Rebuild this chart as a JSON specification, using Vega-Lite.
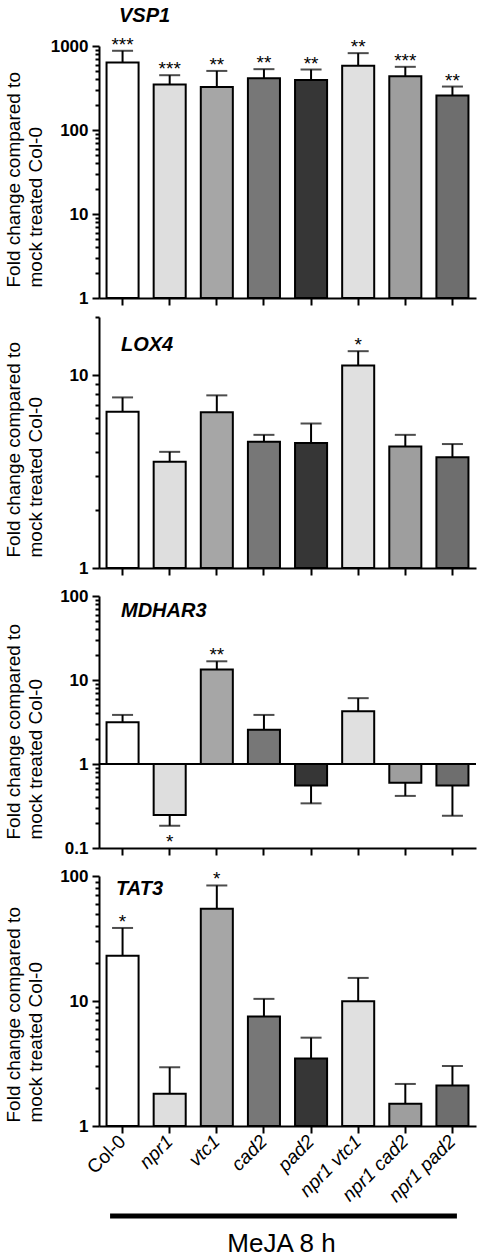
{
  "$schema": "https://vega.github.io/schema/vega-lite/v6.json",
  "background": "white",
  "padding": {"left": 3, "top": 5, "right": 0, "bottom": 0},
  "config": {
    "font": "Liberation Sans",
    "view": {"stroke": null},
    "axis": {"grid": false, "domainColor": "black", "tickColor": "black", "labelColor": "black", "titleColor": "black", "domainWidth": 2, "tickWidth": 2}
  },
  "datasets": {
    "vsp1": [
      {"genotype": "Col-0", "value": 637, "err": 877, "sig": "***"},
      {"genotype": "npr1", "value": 348, "err": 449, "sig": "***"},
      {"genotype": "vtc1", "value": 326, "err": 505, "sig": "**"},
      {"genotype": "cad2", "value": 413, "err": 530, "sig": "**"},
      {"genotype": "pad2", "value": 395, "err": 525, "sig": "**"},
      {"genotype": "npr1 vtc1", "value": 580, "err": 822, "sig": "**"},
      {"genotype": "npr1 cad2", "value": 437, "err": 565, "sig": "***"},
      {"genotype": "npr1 pad2", "value": 257, "err": 329, "sig": "**"}
    ],
    "lox4": [
      {"genotype": "Col-0", "value": 6.46, "err": 7.66, "sig": ""},
      {"genotype": "npr1", "value": 3.55, "err": 4.0, "sig": ""},
      {"genotype": "vtc1", "value": 6.41, "err": 7.85, "sig": ""},
      {"genotype": "cad2", "value": 4.51, "err": 4.9, "sig": ""},
      {"genotype": "pad2", "value": 4.44, "err": 5.61, "sig": ""},
      {"genotype": "npr1 vtc1", "value": 11.2, "err": 13.3, "sig": "*"},
      {"genotype": "npr1 cad2", "value": 4.27, "err": 4.9, "sig": ""},
      {"genotype": "npr1 pad2", "value": 3.75, "err": 4.39, "sig": ""}
    ],
    "mdhar3": [
      {"genotype": "Col-0", "value": 3.13, "err": 3.84, "sig": ""},
      {"genotype": "npr1", "value": 0.247, "err": 0.184, "sig": "*"},
      {"genotype": "vtc1", "value": 13.3, "err": 16.7, "sig": "**"},
      {"genotype": "cad2", "value": 2.56, "err": 3.84, "sig": ""},
      {"genotype": "pad2", "value": 0.555, "err": 0.34, "sig": ""},
      {"genotype": "npr1 vtc1", "value": 4.25, "err": 6.08, "sig": ""},
      {"genotype": "npr1 cad2", "value": 0.597, "err": 0.417, "sig": ""},
      {"genotype": "npr1 pad2", "value": 0.555, "err": 0.242, "sig": ""}
    ],
    "tat3": [
      {"genotype": "Col-0", "value": 23.0, "err": 38.4, "sig": "*"},
      {"genotype": "npr1", "value": 1.81, "err": 2.95, "sig": ""},
      {"genotype": "vtc1", "value": 54.8, "err": 84, "sig": "*"},
      {"genotype": "cad2", "value": 7.5, "err": 10.4, "sig": ""},
      {"genotype": "pad2", "value": 3.46, "err": 5.09, "sig": ""},
      {"genotype": "npr1 vtc1", "value": 9.94, "err": 15.3, "sig": ""},
      {"genotype": "npr1 cad2", "value": 1.51, "err": 2.17, "sig": ""},
      {"genotype": "npr1 pad2", "value": 2.11, "err": 3.02, "sig": ""}
    ],
    "meja": [
      {"from": "Col-0", "to": "npr1 pad2", "label": "MeJA 8 h"}
    ]
  },
  "vconcat": [
    {
      "data": {"name": "vsp1"},
      "width": 377, "height": 252,
      "title": {"text": "VSP1", "anchor": "start", "frame": "group", "dx": 20, "offset": -6, "baseline": "alphabetic", "fontSize": 20, "fontStyle": "italic", "fontWeight": "bold", "color": "black"},
      "encoding": {
        "x": {"field": "genotype", "type": "nominal", "sort": null,
          "scale": {"domain": ["Col-0", "npr1", "vtc1", "cad2", "pad2", "npr1 vtc1", "npr1 cad2", "npr1 pad2"], "paddingInner": 0.32, "paddingOuter": 0.16},
          "axis": {"labels": false, "title": null, "tickSize": 7}}
      },
      "layer": [
        {"mark": {"type": "rule", "strokeWidth": 2, "color": "black"},
         "encoding": {
           "y": {"field": "value", "type": "quantitative",
             "scale": {"type": "log", "domain": [1, 1000], "nice": false},
             "axis": {"title": ["Fold change compared to", "mock treated Col-0"], "titleFontSize": 19, "titleFontWeight": "normal", "titleAngle": 270, "titleAlign": "left", "titleBaseline": "top", "titleX": -95, "titleY": 241, "titleLineHeight": 22,
               "values": [1,2,3,4,5,6,7,8,9,10,20,30,40,50,60,70,80,90,100,200,300,400,500,600,700,800,900,1000],
               "labelExpr": "indexof([0.1,1,10,100,1000], datum.value) >= 0 ? datum.label : ''",
               "format": "~g", "labelFontSize": 17, "labelFontWeight": "bold", "labelPadding": 4,
               "tickSize": {"condition": {"test": "indexof([0.1,1,10,100,1000], datum.value) >= 0", "value": 7}, "value": 4}}},
           "y2": {"field": "err"}}},
        {"mark": {"type": "tick", "orient": "horizontal", "size": 21, "thickness": 2, "color": "black"},
         "encoding": {"y": {"field": "err", "type": "quantitative"}}},
        {"mark": {"type": "bar", "stroke": "black", "strokeWidth": 2},
         "encoding": {"y": {"field": "value", "type": "quantitative"}, "y2": {"datum": 1},
           "fill": {"field": "genotype", "type": "nominal", "legend": null,
             "scale": {"domain": ["Col-0", "npr1", "vtc1", "cad2", "pad2", "npr1 vtc1", "npr1 cad2", "npr1 pad2"], "range": ["#ffffff", "#dedede", "#a6a6a6", "#777777", "#363636", "#e0e0e0", "#9e9e9e", "#6e6e6e"]}}}},
        {"transform": [{"filter": "datum.value >= 1"}],
         "mark": {"type": "text", "fontSize": 19, "baseline": "alphabetic", "dy": 0, "color": "black"},
         "encoding": {"y": {"field": "err", "type": "quantitative"}, "text": {"field": "sig"}}}
      ]
    },
    {
      "data": {"name": "lox4"},
      "width": 377, "height": 251,
      "title": {"text": "LOX4", "anchor": "start", "frame": "group", "dx": 22, "offset": -55, "baseline": "alphabetic", "fontSize": 20, "fontStyle": "italic", "fontWeight": "bold", "color": "black"},
      "encoding": {
        "x": {"field": "genotype", "type": "nominal", "sort": null,
          "scale": {"domain": ["Col-0", "npr1", "vtc1", "cad2", "pad2", "npr1 vtc1", "npr1 cad2", "npr1 pad2"], "paddingInner": 0.32, "paddingOuter": 0.16},
          "axis": {"labels": false, "title": null, "tickSize": 7}}
      },
      "layer": [
        {"mark": {"type": "rule", "strokeWidth": 2, "color": "black"},
         "encoding": {
           "y": {"field": "value", "type": "quantitative",
             "scale": {"type": "log", "domain": [1, 20], "nice": false},
             "axis": {"title": ["Fold change compared to", "mock treated Col-0"], "titleFontSize": 19, "titleFontWeight": "normal", "titleAngle": 270, "titleAlign": "left", "titleBaseline": "top", "titleX": -95, "titleY": 240, "titleLineHeight": 22,
               "values": [1,2,3,4,5,6,7,8,9,10,20],
               "labelExpr": "indexof([0.1,1,10,100,1000], datum.value) >= 0 ? datum.label : ''",
               "format": "~g", "labelFontSize": 17, "labelFontWeight": "bold", "labelPadding": 4,
               "tickSize": {"condition": {"test": "indexof([0.1,1,10,100,1000], datum.value) >= 0", "value": 7}, "value": 4}}},
           "y2": {"field": "err"}}},
        {"mark": {"type": "tick", "orient": "horizontal", "size": 21, "thickness": 2, "color": "black"},
         "encoding": {"y": {"field": "err", "type": "quantitative"}}},
        {"mark": {"type": "bar", "stroke": "black", "strokeWidth": 2},
         "encoding": {"y": {"field": "value", "type": "quantitative"}, "y2": {"datum": 1},
           "fill": {"field": "genotype", "type": "nominal", "legend": null,
             "scale": {"domain": ["Col-0", "npr1", "vtc1", "cad2", "pad2", "npr1 vtc1", "npr1 cad2", "npr1 pad2"], "range": ["#ffffff", "#dedede", "#a6a6a6", "#777777", "#363636", "#e0e0e0", "#9e9e9e", "#6e6e6e"]}}}},
        {"transform": [{"filter": "datum.value >= 1"}],
         "mark": {"type": "text", "fontSize": 19, "baseline": "alphabetic", "dy": 0, "color": "black"},
         "encoding": {"y": {"field": "err", "type": "quantitative"}, "text": {"field": "sig"}}}
      ]
    },
    {
      "data": {"name": "mdhar3"},
      "width": 377, "height": 261,
      "title": {"text": "MDHAR3", "anchor": "start", "frame": "group", "dx": 22, "offset": -50, "baseline": "alphabetic", "fontSize": 20, "fontStyle": "italic", "fontWeight": "bold", "color": "black"},
      "layer": [
        {"mark": {"type": "rule", "strokeWidth": 2, "color": "black"},
         "encoding": {
           "x": {"field": "genotype", "type": "nominal", "sort": null,
             "scale": {"domain": ["Col-0", "npr1", "vtc1", "cad2", "pad2", "npr1 vtc1", "npr1 cad2", "npr1 pad2"], "paddingInner": 0.32, "paddingOuter": 0.16},
             "axis": {"labels": false, "title": null, "tickSize": 7}},
           "y": {"field": "value", "type": "quantitative",
             "scale": {"type": "log", "domain": [0.1, 100], "nice": false, "range": [261, 9]},
             "axis": {"title": ["Fold change compared to", "mock treated Col-0"], "titleFontSize": 19, "titleFontWeight": "normal", "titleAngle": 270, "titleAlign": "left", "titleBaseline": "top", "titleX": -95, "titleY": 252, "titleLineHeight": 22,
               "values": [0.1,0.2,0.3,0.4,0.5,0.6,0.7,0.8,0.9,1,2,3,4,5,6,7,8,9,10,20,30,40,50,60,70,80,90,100],
               "labelExpr": "indexof([0.1,1,10,100,1000], datum.value) >= 0 ? datum.label : ''",
               "format": "~g", "labelFontSize": 17, "labelFontWeight": "bold", "labelPadding": 4,
               "tickSize": {"condition": {"test": "indexof([0.1,1,10,100,1000], datum.value) >= 0", "value": 7}, "value": 4}}},
           "y2": {"field": "err"}}},
        {"mark": {"type": "tick", "orient": "horizontal", "size": 21, "thickness": 2, "color": "black"},
         "encoding": {"x": {"field": "genotype", "type": "nominal", "sort": null}, "y": {"field": "err", "type": "quantitative"}}},
        {"mark": {"type": "bar", "stroke": "black", "strokeWidth": 2},
         "encoding": {"x": {"field": "genotype", "type": "nominal", "sort": null}, "y": {"field": "value", "type": "quantitative"}, "y2": {"datum": 1},
           "fill": {"field": "genotype", "type": "nominal", "legend": null,
             "scale": {"domain": ["Col-0", "npr1", "vtc1", "cad2", "pad2", "npr1 vtc1", "npr1 cad2", "npr1 pad2"], "range": ["#ffffff", "#dedede", "#a6a6a6", "#777777", "#363636", "#e0e0e0", "#9e9e9e", "#6e6e6e"]}}}},
        {"mark": {"type": "rule", "strokeWidth": 2, "color": "black"},
         "encoding": {"y": {"datum": 1}}},
        {"transform": [{"filter": "datum.value >= 1"}],
         "mark": {"type": "text", "fontSize": 19, "baseline": "alphabetic", "dy": 0, "color": "black"},
         "encoding": {"x": {"field": "genotype", "type": "nominal", "sort": null}, "y": {"field": "err", "type": "quantitative"}, "text": {"field": "sig"}}},
        {"transform": [{"filter": "datum.value < 1"}],
         "mark": {"type": "text", "fontSize": 19, "baseline": "alphabetic", "dy": 22, "color": "black"},
         "encoding": {"x": {"field": "genotype", "type": "nominal", "sort": null}, "y": {"field": "err", "type": "quantitative"}, "text": {"field": "sig"}}}
      ]
    },
    {
      "data": {"name": "tat3"},
      "width": 377, "height": 259,
      "title": {"text": "TAT3", "anchor": "start", "frame": "group", "dx": 17, "offset": -48, "baseline": "alphabetic", "fontSize": 20, "fontStyle": "italic", "fontWeight": "bold", "color": "black"},
      "encoding": {
        "x": {"field": "genotype", "type": "nominal", "sort": null,
          "scale": {"domain": ["Col-0", "npr1", "vtc1", "cad2", "pad2", "npr1 vtc1", "npr1 cad2", "npr1 pad2"], "paddingInner": 0.32, "paddingOuter": 0.16},
          "axis": {"title": null, "tickSize": 7, "labelAngle": -45, "labelAlign": "right", "labelBaseline": "middle", "labelPadding": 5, "labelFontSize": 19, "labelOverlap": false, "labelFlush": false,
            "labelFontStyle": {"condition": {"test": "datum.value == 'Col-0'", "value": "normal"}, "value": "italic"}}}
      },
      "layer": [
        {"mark": {"type": "rule", "strokeWidth": 2, "color": "black"},
         "encoding": {
           "y": {"field": "value", "type": "quantitative",
             "scale": {"type": "log", "domain": [1, 100], "nice": false, "range": [259, 9]},
             "axis": {"title": ["Fold change compared to", "mock treated Col-0"], "titleFontSize": 19, "titleFontWeight": "normal", "titleAngle": 270, "titleAlign": "left", "titleBaseline": "top", "titleX": -95, "titleY": 255, "titleLineHeight": 22,
               "values": [1,2,3,4,5,6,7,8,9,10,20,30,40,50,60,70,80,90,100],
               "labelExpr": "indexof([0.1,1,10,100,1000], datum.value) >= 0 ? datum.label : ''",
               "format": "~g", "labelFontSize": 17, "labelFontWeight": "bold", "labelPadding": 4,
               "tickSize": {"condition": {"test": "indexof([0.1,1,10,100,1000], datum.value) >= 0", "value": 7}, "value": 4}}},
           "y2": {"field": "err"}}},
        {"mark": {"type": "tick", "orient": "horizontal", "size": 21, "thickness": 2, "color": "black"},
         "encoding": {"y": {"field": "err", "type": "quantitative"}}},
        {"mark": {"type": "bar", "stroke": "black", "strokeWidth": 2},
         "encoding": {"y": {"field": "value", "type": "quantitative"}, "y2": {"datum": 1},
           "fill": {"field": "genotype", "type": "nominal", "legend": null,
             "scale": {"domain": ["Col-0", "npr1", "vtc1", "cad2", "pad2", "npr1 vtc1", "npr1 cad2", "npr1 pad2"], "range": ["#ffffff", "#dedede", "#a6a6a6", "#777777", "#363636", "#e0e0e0", "#9e9e9e", "#6e6e6e"]}}}},
        {"transform": [{"filter": "datum.value >= 1"}],
         "mark": {"type": "text", "fontSize": 19, "baseline": "alphabetic", "dy": 0, "color": "black"},
         "encoding": {"y": {"field": "err", "type": "quantitative"}, "text": {"field": "sig"}}}
      ]
    },
    {
      "data": {"name": "meja"},
      "width": 377, "height": 71,
      "mark": {"type": "rule", "strokeWidth": 5, "color": "black"},
      "encoding": {
        "y": {"field": "label", "type": "nominal", "axis": null, "scale": {"type": "point", "padding": 0, "align": 1}},
        "x": {"field": "from", "type": "nominal", "bandPosition": 0.11,
          "scale": {"domain": ["Col-0", "npr1", "vtc1", "cad2", "pad2", "npr1 vtc1", "npr1 cad2", "npr1 pad2"], "paddingInner": 0.32, "paddingOuter": 0.16},
          "axis": {"title": "MeJA 8 h", "domain": false, "ticks": false, "labels": false, "titleFontSize": 26, "titleFontWeight": "normal", "titleBaseline": "alphabetic", "titleX": 182, "titleY": 35}},
        "x2": {"field": "to", "bandPosition": 0.64}
      }
    }
  ],
  "spacing": 19,
  "bounds": "flush"
}
